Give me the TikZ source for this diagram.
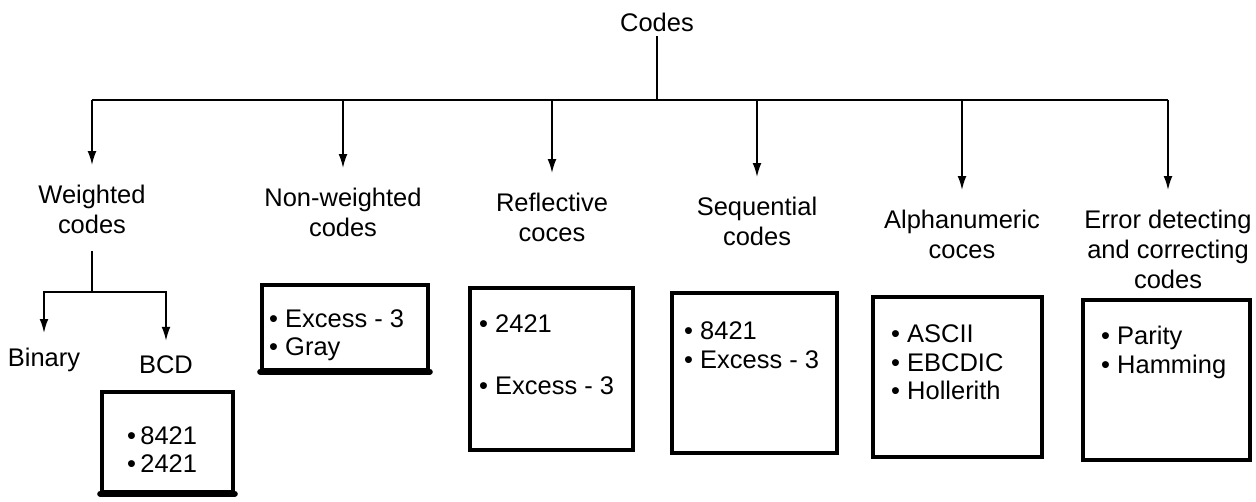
\documentclass[tikz,border=0pt]{standalone}
\usepackage{fontspec}
\setmainfont{Liberation Sans}
\usetikzlibrary{arrows.meta,positioning}

\begin{document}
\begin{tikzpicture}[x=0.02cm, y=-0.02cm, line width=1.1pt, >={Latex[length=8pt,width=5pt]}, font=\fontsize{14.5}{17}\selectfont]
      \tikzstyle{head}  = [align=center, inner sep=2pt, anchor=north]
      \tikzstyle{leaf}  = [inner sep=2pt]
      \tikzstyle{box}   = [rectangle, draw, line width=2pt, inner sep=0]
      \tikzstyle{items} = [align=left, inner sep=0, anchor=north west, font=\fontsize{14.5}{16.5}\selectfont]
      \tikzstyle{heavy} = [line width=3.5pt, line cap=round]
      \tikzstyle{arr}   = [->, shorten >=9pt]

      \useasboundingbox (0,0) rectangle (1256,502);

      \node[head, anchor=center] (codes) at (657,22) {Codes};
      \coordinate (bus) at (657,100);

      % kinds of codes
      \node[head] (wt)    at (92,181)   {Weighted\\codes};
      \node[head] (nw)    at (343,184)  {Non-weighted\\codes};
      \node[head] (refl)  at (552,189)  {Reflective\\coces};
      \node[head] (seq)   at (757,193)  {Sequential\\codes};
      \node[head] (alpha) at (962,206)  {Alphanumeric\\coces};
      \node[head] (err)   at (1168,206) {Error detecting\\and correcting\\codes};

      \node[leaf] (bin) at (44,360)  {Binary};
      \node[leaf] (bcd) at (166,365) {BCD};
      \coordinate (split) at (92,292);

      % boxes
      \node[box, minimum width=2.62cm, minimum height=2cm]   (bcdbox)   at (167.5,442) {};
      \node[box, minimum width=3.32cm, minimum height=1.7cm] (nwbox)    at (345,327.5) {};
      \node[box, minimum width=3.26cm, minimum height=3.24cm] (reflbox) at (551.5,369) {};
      \node[box, minimum width=3.3cm, minimum height=3.2cm]  (seqbox)   at (754.5,373) {};
      \node[box, minimum width=3.38cm, minimum height=3.2cm] (alphabox) at (957.5,377) {};
      \node[box, minimum width=3.34cm, minimum height=3.2cm] (errbox)   at (1166.5,380) {};

      \node[items] (bcdlist)   at ([shift={(26,35)}]bcdbox.north west)   {\textbullet\,8421\\\textbullet\,2421};
      \node[items] (nwlist)    at ([shift={(8,25)}]nwbox.north west)     {\textbullet\ Excess - 3\\\textbullet\ Gray};
      \node[items] (refllist)  at ([shift={(10,27)}]reflbox.north west)  {\textbullet\ 2421\\[19pt]\textbullet\ Excess - 3};
      \node[items] (seqlist)   at ([shift={(13,29)}]seqbox.north west)   {\textbullet\ 8421\\\textbullet\ Excess - 3};
      \node[items] (alphalist) at ([shift={(19,28)}]alphabox.north west) {\textbullet\ ASCII\\\textbullet\ EBCDIC\\\textbullet\ Hollerith};
      \node[items] (errlist)   at ([shift={(19,27)}]errbox.north west)   {\textbullet\ Parity\\\textbullet\ Hamming};

      \draw[heavy] (bcdbox.south west) -- (bcdbox.south east);
      \draw[heavy] (nwbox.south west) -- (nwbox.south east);

      % tree
      \draw (codes) -- (bus);
      \draw (wt |- bus) -- (err |- bus);
      \foreach \k in {wt, nw, refl, seq, alpha, err}
        \draw[arr] (\k |- bus) -- (\k.north);
      \draw[shorten <=7pt] (wt.south) -- (split);
      \draw[->, shorten >=6pt] (split) -| (bin);
      \draw[->, shorten >=6pt] (split) -| (bcd);
    \end{tikzpicture}
\end{document}
